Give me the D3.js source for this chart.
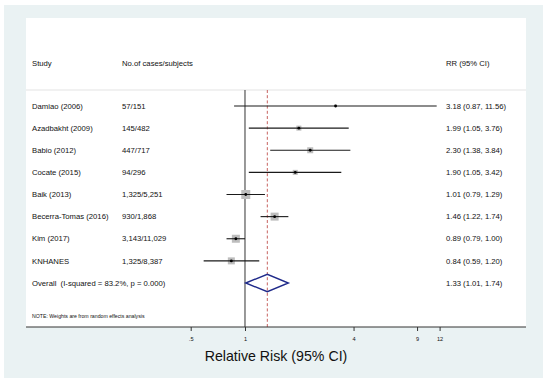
<!DOCTYPE html>
<html>
<head>
<meta charset="utf-8">
<script src="https://cdn.jsdelivr.net/npm/d3@7/dist/d3.min.js"></script>
<style>
  html, body { margin: 0; padding: 0; background: #ffffff; }
  svg { display: block; font-family: "Liberation Sans", Arial, Helvetica, sans-serif; }
</style>
</head>
<body>
<svg id="chart" width="550" height="383"></svg>
<script>
// ---- data ----
const studies = ["Damiao (2006)", "Azadbakht (2009)", "Babio (2012)", "Cocate (2015)", "Baik (2013)", "Becerra-Tomas (2016)", "Kim (2017)", "KNHANES"];
const cases = ["57/151", "145/482", "447/717", "94/296", "1,325/5,251", "930/1,868", "3,143/11,029", "1,325/8,387"];
const rr = [3.18, 1.99, 2.30, 1.90, 1.01, 1.46, 0.89, 0.84];
const lower = [0.87, 1.05, 1.38, 1.05, 0.79, 1.22, 0.79, 0.59];
const upper = [11.56, 3.76, 3.84, 3.42, 1.29, 1.74, 1.00, 1.20];
const weights = [1.8, 7.2, 10.3, 7.2, 23.1, 18.2, 18.2, 14.0];
const overallLabel = "Overall  (I-squared = 83.2%, p = 0.000)";
const overall = { rr: 1.33, lower: 1.01, upper: 1.74 };
const headers = ["Study", "No.of cases/subjects", "RR (95% CI)"];
const tickValues = [0.5, 1, 4, 9, 12];
const tickLabels = [".5", "1", "4", "9", "12"];
const axisTitle = "Relative Risk (95% CI)";
const note = "NOTE: Weights are from random effects analysis";

const fmt = d3.format(".2f");
const rrText = (r, l, u) => `${fmt(r)} (${fmt(l)}, ${fmt(u)})`;

// ---- layout ----
const svg = d3.select("#chart");
const outer = { x0: 4, y0: 5, x1: 543, y1: 378 };
const panel = { x0: 26, y0: 18, x1: 526, y1: 327 };
const colStudy = 32, colCases = 122, colRR = 446;
const sepY = 90, headerY = 63;

const x = d3.scaleLog().domain([0.5, 12]).range([190.7, 439.6]);
const rowKeys = studies.concat([overallLabel]);
const y = d3.scalePoint().domain(rowKeys).range([106, 283]);
const size = d3.scaleSqrt().domain([0, 23.1]).range([0, 9]);

svg.append("rect").attr("x", outer.x0).attr("y", outer.y0)
  .attr("width", outer.x1 - outer.x0).attr("height", outer.y1 - outer.y0)
  .attr("fill", "#eaf2f3");
svg.append("rect").attr("x", panel.x0).attr("y", panel.y0)
  .attr("width", panel.x1 - panel.x0).attr("height", panel.y1 - panel.y0)
  .attr("fill", "#ffffff");

// separator
svg.append("line").attr("x1", panel.x0).attr("x2", panel.x1)
  .attr("y1", sepY).attr("y2", sepY)
  .attr("stroke", "#e3e3e3").attr("stroke-width", 1.2);

// headers
const fs = 7.7;
svg.selectAll("text.hdr").data(headers).enter().append("text")
  .attr("class", "hdr")
  .attr("x", (d, i) => [colStudy, colCases, colRR][i])
  .attr("y", headerY).attr("dy", "0.35em")
  .attr("font-size", fs).attr("fill", "#111")
  .text(d => d);

// null line
svg.append("line").attr("x1", x(1)).attr("x2", x(1))
  .attr("y1", sepY).attr("y2", panel.y1)
  .attr("stroke", "#333").attr("stroke-width", 1);

// overall dashed line
svg.append("line").attr("x1", x(overall.rr)).attr("x2", x(overall.rr))
  .attr("y1", sepY).attr("y2", panel.y1)
  .attr("stroke", "#c0504d").attr("stroke-width", 0.9)
  .attr("stroke-dasharray", "3,2.2");

const rows = studies.map((s, i) => ({ s, c: cases[i], rr: rr[i], l: lower[i], u: upper[i], w: weights[i] }));

// weight squares
svg.selectAll("rect.wt").data(rows).enter().append("rect")
  .attr("class", "wt")
  .attr("x", d => x(d.rr) - size(d.w) / 2)
  .attr("y", d => y(d.s) - size(d.w) / 2)
  .attr("width", d => size(d.w)).attr("height", d => size(d.w))
  .attr("fill", "#bdbdbd");

// CI lines
svg.selectAll("line.ci").data(rows).enter().append("line")
  .attr("class", "ci")
  .attr("x1", d => x(d.l)).attr("x2", d => x(d.u))
  .attr("y1", d => y(d.s)).attr("y2", d => y(d.s))
  .attr("stroke", "#1a1a1a").attr("stroke-width", 1.1);

// point estimates
svg.selectAll("circle.pt").data(rows).enter().append("circle")
  .attr("class", "pt")
  .attr("cx", d => x(d.rr)).attr("cy", d => y(d.s))
  .attr("r", 1.4).attr("fill", "#000");

// row texts
svg.selectAll("text.study").data(rows).enter().append("text")
  .attr("x", colStudy).attr("y", d => y(d.s)).attr("dy", "0.35em")
  .attr("font-size", fs).attr("fill", "#111").text(d => d.s);
svg.selectAll("text.cases").data(rows).enter().append("text")
  .attr("x", colCases).attr("y", d => y(d.s)).attr("dy", "0.35em")
  .attr("font-size", fs).attr("fill", "#111").text(d => d.c);
svg.selectAll("text.rr").data(rows).enter().append("text")
  .attr("x", colRR).attr("y", d => y(d.s)).attr("dy", "0.35em")
  .attr("font-size", fs).attr("fill", "#111").text(d => rrText(d.rr, d.l, d.u));

// overall
const oy = y(overallLabel), dh = 8.7;
svg.append("path")
  .attr("d", `M${x(overall.lower)},${oy} L${x(overall.rr)},${oy - dh} L${x(overall.upper)},${oy} L${x(overall.rr)},${oy + dh} Z`)
  .attr("fill", "none").attr("stroke", "#1f2a8a").attr("stroke-width", 1.4);
svg.append("text").attr("x", colStudy).attr("y", oy).attr("dy", "0.35em")
  .attr("font-size", fs).attr("fill", "#111")
  .attr("xml:space", "preserve").style("white-space", "pre")
  .text(overallLabel);
svg.append("text").attr("x", colRR).attr("y", oy).attr("dy", "0.35em")
  .attr("font-size", fs).attr("fill", "#111")
  .text(rrText(overall.rr, overall.lower, overall.upper));

// note
svg.append("text").attr("x", colStudy).attr("y", 317.8)
  .attr("font-size", 5.2).attr("fill", "#111").text(note);

// axis
svg.append("line").attr("x1", panel.x0).attr("x2", panel.x1)
  .attr("y1", panel.y1).attr("y2", panel.y1)
  .attr("stroke", "#333").attr("stroke-width", 1);
const axis = d3.axisBottom(x).tickValues(tickValues)
  .tickFormat((d, i) => tickLabels[i]).tickSize(4).tickPadding(6);
const ag = svg.append("g").attr("transform", `translate(0,${panel.y1})`).call(axis);
ag.select(".domain").remove();
ag.selectAll(".tick line").attr("stroke", "#333");
ag.selectAll(".tick text").attr("font-size", 5.6).attr("fill", "#111")
  .attr("font-family", "Liberation Sans, Arial, sans-serif");

svg.append("text").attr("x", (panel.x0 + panel.x1) / 2).attr("y", 360.5)
  .attr("text-anchor", "middle").attr("font-size", 14.2).attr("fill", "#111")
  .text(axisTitle);
</script>
</body>
</html>
